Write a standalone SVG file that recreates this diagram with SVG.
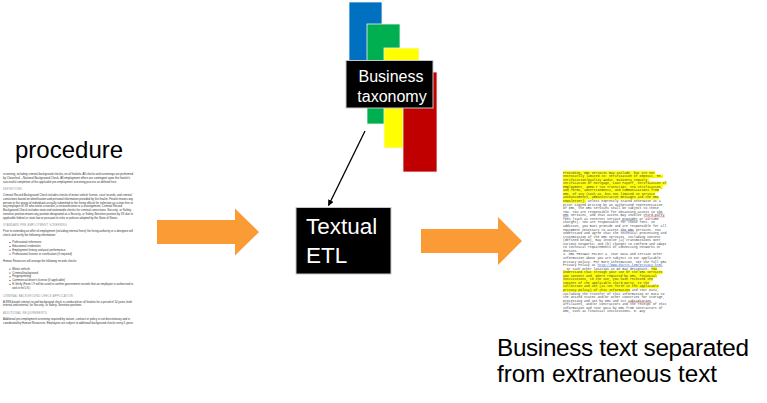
<svg xmlns="http://www.w3.org/2000/svg" width="767" height="403" viewBox="0 0 767 403">
<defs>
<style>
.doc{font-family:"Liberation Sans",Arial,sans-serif;font-size:3.4px;fill:#333}
.hd{font-family:"Liberation Sans",Arial,sans-serif;font-size:3.1px;fill:#8a9097;letter-spacing:0.25px}
.mono{font-family:"Liberation Mono","Courier New",monospace;font-size:3.2px;fill:#444}
.big{font-family:"Liberation Sans",Arial,sans-serif;fill:#000}
.wt{font-family:"Liberation Sans",Arial,sans-serif;fill:#fff}
.hl{fill:#ffff00}
.blk{fill:#000;stroke:#c8c8c8;stroke-width:1}
.arrow{fill:#fb9b36}
.tax{stroke:#f2f2f2;stroke-width:0.8}
.ub{stroke:#5b7fd6;stroke-width:0.5}
.ur{stroke:#e05050;stroke-width:0.5}
</style>
<marker id="ah" viewBox="0 0 10 10" refX="9" refY="5" markerWidth="6" markerHeight="6" markerUnits="userSpaceOnUse" orient="auto">
<path d="M0,0 L10,5 L0,10 z" fill="#000"/>
</marker>
</defs>
<rect width="767" height="403" fill="#fff"/>

<g id="procedure-doc">
<text class="big" x="15" y="158" font-size="24">procedure</text>
<text class="doc" x="3" y="174.5" textLength="130" lengthAdjust="spacingAndGlyphs">screening, including criminal background checks, on all finalists. All checks and screenings are performed</text>
<text class="doc" x="3" y="178.5" textLength="127" lengthAdjust="spacingAndGlyphs">by Cloverleaf – National Background Check. All employment offers are contingent upon the finalist's</text>
<text class="doc" x="3" y="182.5" textLength="114" lengthAdjust="spacingAndGlyphs">successful completion of the applicable pre-employment screening process as defined here.</text>
<text class="hd" x="3" y="190" textLength="19" lengthAdjust="spacingAndGlyphs">DEFINITIONS</text>
<text class="doc" x="3" y="196" textLength="129" lengthAdjust="spacingAndGlyphs">Criminal Record Background Check includes checks of motor vehicle license, court records, and criminal</text>
<text class="doc" x="3" y="199.8" textLength="130" lengthAdjust="spacingAndGlyphs">convictions based on identification and personal information provided by the finalist. Finalist means any</text>
<text class="doc" x="3" y="203.6" textLength="130" lengthAdjust="spacingAndGlyphs">person in the group of individuals actually submitted to the hiring official for selection as a new hire or</text>
<text class="doc" x="3" y="207.4" textLength="119" lengthAdjust="spacingAndGlyphs">any employee of XX who seeks a transfer, a reclassification or a reassignment. Criminal Record</text>
<text class="doc" x="3" y="211.2" textLength="129" lengthAdjust="spacingAndGlyphs">Background Check includes state and nationwide checks for criminal convictions. Security- or Safety-</text>
<text class="doc" x="3" y="215" textLength="130" lengthAdjust="spacingAndGlyphs">sensitive position means any position designated as a Security- or Safety-Sensitive position by XX due to</text>
<text class="doc" x="3" y="218.8" textLength="115" lengthAdjust="spacingAndGlyphs">applicable federal or state law or pursuant to rules or policies adopted by the State of Illinois.</text>
<text class="hd" x="3" y="226" textLength="64" lengthAdjust="spacingAndGlyphs">STANDARD PRE-EMPLOYMENT SCREENING</text>
<text class="doc" x="3" y="232" textLength="130" lengthAdjust="spacingAndGlyphs">Prior to extending an offer of employment (including internal hires) the hiring authority or a designee will</text>
<text class="doc" x="3" y="235.8" textLength="53" lengthAdjust="spacingAndGlyphs">check and verify the following information:</text>
<g fill="#333">
<rect x="9.5" y="242" width="1" height="1"/><rect x="9.5" y="246" width="1" height="1"/><rect x="9.5" y="249.8" width="1" height="1"/><rect x="9.5" y="253.6" width="1" height="1"/>
<rect x="9.5" y="268.7" width="1" height="1"/><rect x="9.5" y="272.5" width="1" height="1"/><rect x="9.5" y="276.3" width="1" height="1"/><rect x="9.5" y="280.1" width="1" height="1"/><rect x="9.5" y="283.9" width="1" height="1"/>
</g>
<text class="doc" x="12.3" y="243.2" textLength="29.7" lengthAdjust="spacingAndGlyphs">Professional references;</text>
<text class="doc" x="12.3" y="247.1" textLength="28.7" lengthAdjust="spacingAndGlyphs">Educational credentials;</text>
<text class="doc" x="12.3" y="250.9" textLength="53.7" lengthAdjust="spacingAndGlyphs">Employment history and past performance;</text>
<text class="doc" x="12.3" y="254.7" textLength="59.7" lengthAdjust="spacingAndGlyphs">Professional license or certification (if required)</text>
<text class="doc" x="3" y="262" textLength="74" lengthAdjust="spacingAndGlyphs">Human Resources will arrange the following records checks:</text>
<text class="doc" x="12.3" y="269.8" textLength="17.7" lengthAdjust="spacingAndGlyphs">Motor vehicle</text>
<text class="doc" x="12.3" y="273.6" textLength="25.7" lengthAdjust="spacingAndGlyphs">Criminal background</text>
<text class="doc" x="12.3" y="277.4" textLength="18.7" lengthAdjust="spacingAndGlyphs">Fingerprinting</text>
<text class="doc" x="12.3" y="281.2" textLength="52.7" lengthAdjust="spacingAndGlyphs">Commercial driver's license (if applicable)</text>
<text class="doc" x="12.3" y="285" textLength="120.7" lengthAdjust="spacingAndGlyphs">E-Verify (Form I-9 will be used to confirm government records that an employee is authorized to</text>
<text class="doc" x="12.3" y="288.8" textLength="17.7" lengthAdjust="spacingAndGlyphs">work in the U.S.)</text>
<text class="hd" x="3" y="296.5" textLength="70" lengthAdjust="spacingAndGlyphs">CRIMINAL BACKGROUND CHECK APPLICATION</text>
<text class="doc" x="3" y="302.5" textLength="129" lengthAdjust="spacingAndGlyphs">A SSN-based criminal record background check is conducted on all finalists for a period of 10 years, both</text>
<text class="doc" x="3" y="306.4" textLength="79" lengthAdjust="spacingAndGlyphs">internal and external, for Security- or Safety- Sensitive positions.</text>
<text class="hd" x="3" y="314" textLength="44" lengthAdjust="spacingAndGlyphs">ADDITIONAL REQUIREMENTS</text>
<text class="doc" x="3" y="320" textLength="127" lengthAdjust="spacingAndGlyphs">Additional pre-employment screening required by statute, contract or policy is not discretionary and is</text>
<text class="doc" x="3" y="324" textLength="130" lengthAdjust="spacingAndGlyphs">coordinated by Human Resources. Employees are subject to additional background checks every 5 years</text>
</g>

<g id="business-taxonomy">
<rect class="tax" x="349" y="2" width="33" height="60" fill="#0070c0"/>
<rect class="tax" x="367" y="24" width="33" height="100" fill="#00b050"/>
<rect class="tax" x="384" y="48" width="35" height="100" fill="#ffff00"/>
<rect class="tax" x="403" y="72" width="34" height="100" fill="#c00000"/>
<rect class="blk" x="346" y="60.5" width="87" height="47.5"/>
<text class="wt" x="391" y="82.3" font-size="16" text-anchor="middle">Business</text>
<text class="wt" x="392" y="101.5" font-size="16" text-anchor="middle">taxonomy</text>
</g>

<g id="textual-etl">
<rect class="blk" x="296" y="207.5" width="95" height="66.5"/>
<text class="wt" x="306" y="234" font-size="22.5">Textual</text>
<text class="wt" x="306" y="263" font-size="22.5">ETL</text>
</g>

<g id="business-text-doc">
<g>
<rect class="hl" x="563" y="170.9" width="92.2" height="3.6"/>
<rect class="hl" x="563" y="174.5" width="99.8" height="3.6"/>
<rect class="hl" x="563" y="178.0" width="86.4" height="3.6"/>
<rect class="hl" x="563" y="181.6" width="103.7" height="3.6"/>
<rect class="hl" x="563" y="185.1" width="99.8" height="3.6"/>
<rect class="hl" x="563" y="188.7" width="96" height="3.6"/>
<rect class="hl" x="563" y="192.3" width="92.2" height="3.6"/>
<rect class="hl" x="563" y="195.8" width="96" height="3.6"/>
<rect class="hl" x="563" y="199.4" width="23" height="3.6"/>
<rect class="hl" x="651.3" y="267.0" width="5.8" height="3.6"/>
<rect class="hl" x="563" y="270.6" width="99.8" height="3.6"/>
<rect class="hl" x="563" y="274.1" width="94.1" height="3.6"/>
<rect class="hl" x="563" y="277.7" width="90.2" height="3.6"/>
<rect class="hl" x="563" y="281.2" width="86.4" height="3.6"/>
<rect class="hl" x="563" y="284.8" width="96" height="3.6"/>
<rect class="hl" x="563" y="288.4" width="67.2" height="3.6"/>
</g>
<g>
<line class="ub" x1="657.1" y1="213.2" x2="662.8" y2="213.2"/>
<line class="ub" x1="563" y1="216.8" x2="568.8" y2="216.8"/>
<line class="ur" x1="643.6" y1="216.8" x2="664.8" y2="216.8"/>
<line class="ub" x1="622.5" y1="220.3" x2="637.9" y2="220.3"/>
<line class="ub" x1="620.6" y1="231" x2="634" y2="231"/>
<line class="ub" x1="597.6" y1="266.6" x2="662.8" y2="266.6"/>
<line class="ur" x1="628.3" y1="302.2" x2="651.3" y2="302.2"/>
</g>
<text class="mono" x="563" y="173.5">Providing, DRC Services may include, but are not</text>
<text class="mono" x="563" y="177.1">necessarily limited to: Verification of Deposit, Re-</text>
<text class="mono" x="563" y="180.6">Verification/Quality Audit, Business Inquiry,</text>
<text class="mono" x="563" y="184.2">Verification of Mortgage, Loan Payoff, Verification of</text>
<text class="mono" x="563" y="187.7">Employment, 4506-T Tax Transcript, SSN Verification,</text>
<text class="mono" x="563" y="191.3">and forms, advertisements, and communications from</text>
<text class="mono" x="563" y="194.9">DRC, of any (such as, but not limited to service</text>
<text class="mono" x="563" y="198.4">announcements, administrative messages and the DRC</text>
<text class="mono" x="563" y="202.0">newsletter). Unless expressly stated otherwise in a</text>
<text class="mono" x="563" y="205.5">prior signed writing by an authorized representative</text>
<text class="mono" x="563" y="209.1">of DRC, the DRC Services shall be subject to these</text>
<text class="mono" x="563" y="212.7">TOU. You are responsible for obtaining access to the</text>
<text class="mono" x="563" y="216.2">DRC Services, and that access may involve third-party</text>
<text class="mono" x="563" y="219.8">fees (such as Internet service provider or airtime</text>
<text class="mono" x="563" y="223.3">charges). You are responsible for those fees. In</text>
<text class="mono" x="563" y="226.9">addition, you must provide and are responsible for all</text>
<text class="mono" x="563" y="230.5">equipment necessary to access the DRC Services. You</text>
<text class="mono" x="563" y="234.0">understand and agree that the technical processing and</text>
<text class="mono" x="563" y="237.6">transmission of the DRC Services, including Content</text>
<text class="mono" x="563" y="241.1">(defined below), may involve (a) transmissions over</text>
<text class="mono" x="563" y="244.7">various networks; and (b) changes to conform and adapt</text>
<text class="mono" x="563" y="248.3">to technical requirements of connecting networks or</text>
<text class="mono" x="563" y="251.8">devices.</text>
<text class="mono" x="563" y="255.4">4. DRC PRIVACY POLICY a. Your Data and certain other</text>
<text class="mono" x="563" y="258.9">information about you are subject to our applicable</text>
<text class="mono" x="563" y="262.5">privacy policy. For more information, see the full DRC</text>
<text class="mono" x="563" y="266.1">Privacy Policy at <tspan fill="#3a62c8">http://www.dsctrc.com/privacy.html</tspan></text>
<text class="mono" x="563" y="269.6">, or such other location as we may designate. You</text>
<text class="mono" x="563" y="273.2">understand that through your use of the DRC Services</text>
<text class="mono" x="563" y="276.7">you consent and, where required by DRC, financial</text>
<text class="mono" x="563" y="280.3">institutions, to the use, you have received the</text>
<text class="mono" x="563" y="283.9">consent of the applicable third party, to the</text>
<text class="mono" x="563" y="287.4">collection and use (as set forth in the applicable</text>
<text class="mono" x="563" y="291.0">privacy policy) of this information and Your Data,</text>
<text class="mono" x="563" y="294.5">including the transfer of this information or Data to</text>
<text class="mono" x="563" y="298.1">the United States and/or other countries for storage,</text>
<text class="mono" x="563" y="301.7">processing and use by DRC and its subsidiaries,</text>
<text class="mono" x="563" y="305.2">affiliates, and/or contractors and the receipt of this</text>
<text class="mono" x="563" y="308.8">information and Your Data by DRC from contractors of</text>
<text class="mono" x="563" y="312.3">DRC, such as financial institutions. 5. Any</text>
<text class="big" x="497" y="355.5" font-size="24.3" textLength="252">Business text separated</text>
<text class="big" x="497" y="382" font-size="24.3" textLength="220">from extraneous text</text>
</g>

<g id="connectors">
<polygon class="arrow" points="157,220 235,220 235,208.5 259,232 235,255.5 235,244 157,244"/>
<polygon class="arrow" points="421,229 498,229 498,217 522,241 498,265 498,253 421,253"/>
<line x1="365" y1="131" x2="328.5" y2="205.5" stroke="#000" stroke-width="1.3" marker-end="url(#ah)"/>
</g>
</svg>
